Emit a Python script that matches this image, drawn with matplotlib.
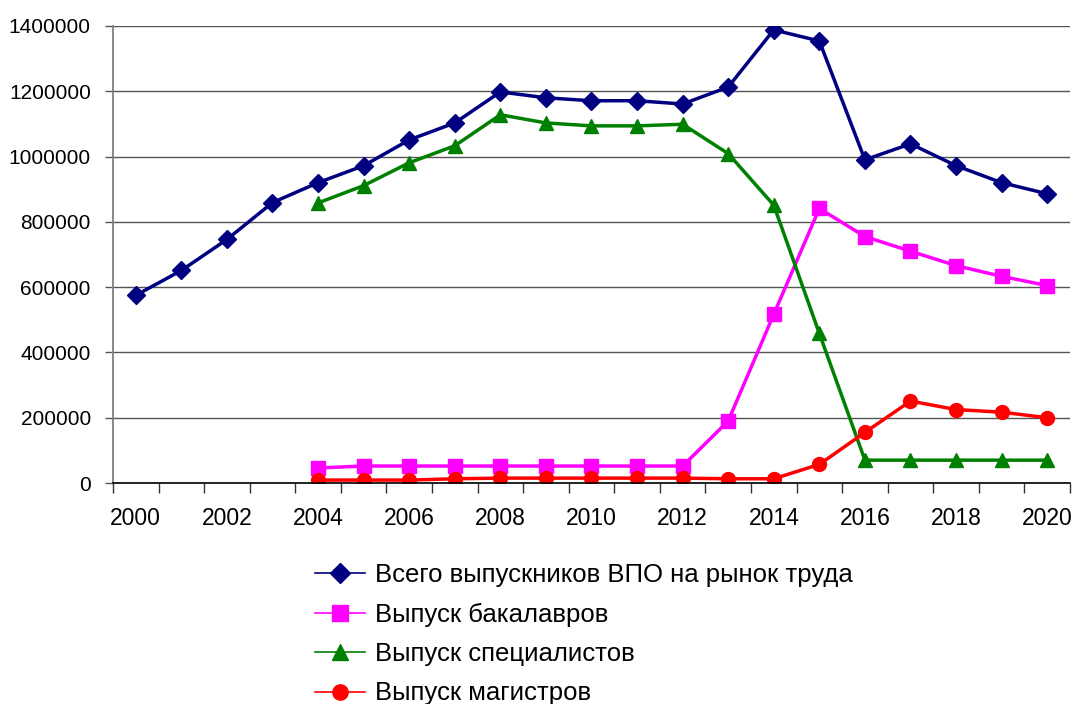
import matplotlib
matplotlib.use("Agg")
import matplotlib.pyplot as plt
from matplotlib.lines import Line2D
import numpy as np

plt.rcParams['font.family'] = ['Liberation Sans', 'DejaVu Sans']

years = list(range(2000, 2021))
total = [575000, 651000, 746000, 859000, 920000, 972000, 1051000, 1103000, 1198000,
         1180000, 1171000, 1171000, 1161000, 1213000, 1388000, 1354000, 990000,
         1039000, 972000, 920000, 886000]
bachelors_years = list(range(2004, 2021))
bachelors = [46000, 52000, 52000, 52000, 52000, 52000, 52000, 52000, 52000,
             190000, 517000, 841000, 755000, 710000, 666000, 633000, 605000]
specialists = [858000, 911000, 981000, 1033000, 1128000, 1103000, 1094000, 1094000,
               1099000, 1009000, 851000, 458000, 70000, 70000, 70000, 70000, 70000]
masters = [9000, 9000, 9000, 13000, 15000, 15000, 15000, 15000, 15000,
           13000, 13000, 57000, 155000, 251000, 225000, 217000, 200000]

labels = ["Всего выпускников ВПО на рынок труда", "Выпуск бакалавров",
          "Выпуск специалистов", "Выпуск магистров"]
yticks = [0, 200000, 400000, 600000, 800000, 1000000, 1200000, 1400000]

colors = ['#000080', '#FF00FF', '#008000', '#FF0000']
markers = ['D', 's', '^', 'o']
msizes = [9, 10, 10, 10]

fig = plt.figure(figsize=(10.73, 7.04), dpi=100)
ax = fig.add_axes([0.1053, 0.3139, 0.8919, 0.6492])

xi_total = [years.index(y) for y in years]
xi_sub = [years.index(y) for y in bachelors_years]

series = [(xi_total, total), (xi_sub, bachelors), (xi_sub, specialists), (xi_sub, masters)]
for (xs, ys), c, m, s in zip(series, colors, markers, msizes):
    ax.plot(xs, ys, color=c, lw=2.5, marker=m, ms=s)

ax.set_xlim(-0.5, len(years) - 0.5)
ax.set_ylim(0, 1400000)
ax.set_yticks(yticks)
ax.set_yticklabels([str(v) for v in yticks], fontsize=15)
ax.yaxis.grid(True, color='#555555', lw=1)
ax.set_axisbelow(True)

major = [i for i, y in enumerate(years) if y % 2 == 0]
ax.set_xticks(major)
ax.set_xticklabels([str(years[i]) for i in major], fontsize=16.5)
ax.set_xticks(np.arange(-0.5, len(years), 1.0), minor=True)
ax.tick_params(axis='x', which='major', length=0, pad=17)
ax.tick_params(axis='x', which='minor', length=7, width=1, color='#333333', direction='out')
ax.tick_params(axis='y', length=6, width=1, color='#555555', direction='out', pad=10)

for s in ['top', 'right']:
    ax.spines[s].set_visible(False)
ax.spines['left'].set_color('#808080')
ax.spines['left'].set_linewidth(1.3)
ax.spines['bottom'].set_color('#000000')
ax.spines['bottom'].set_linewidth(1.2)

proxies = [Line2D([], [], color=c, lw=1.2, marker=m, ms=s + 1)
           for c, m, s in zip(colors, markers, msizes)]
fig.legend(proxies, labels, loc='upper left', bbox_to_anchor=(0.2936, 0.200),
           frameon=False, fontsize=18.5, handlelength=1.95, handletextpad=0.4,
           labelspacing=0.6, borderpad=0, borderaxespad=0)

fig.savefig("out.png", dpi=100)
